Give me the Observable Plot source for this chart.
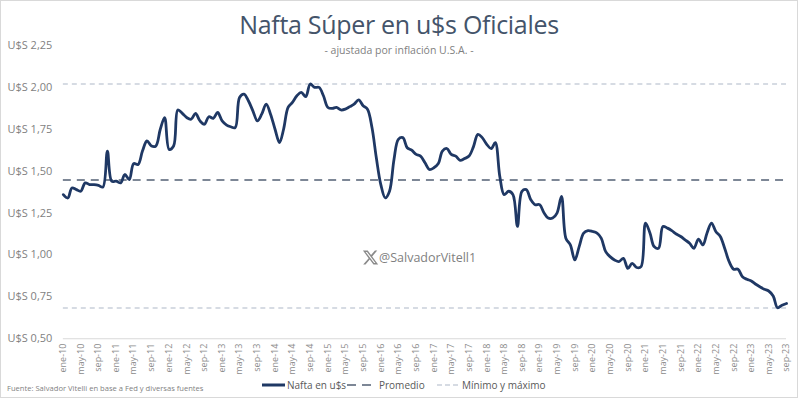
<!DOCTYPE html>
<html>
<head>
<meta charset="utf-8">
<script src="https://cdn.jsdelivr.net/npm/d3@7"></script>
<script src="https://cdn.jsdelivr.net/npm/@observablehq/plot@0.6"></script>
<style>
  html, body { margin: 0; padding: 0; background: #fff; }
  #wrap { position: relative; width: 798px; height: 398px; box-sizing: border-box; border: 1px solid #d9d9d9; overflow: hidden; font-family: "Open Sans", sans-serif; }
  #title { position: absolute; top: 6px; left: 0; width: 796px; text-align: center; font-size: 25px; color: #44546a; letter-spacing: -0.3px; }
  #subtitle { position: absolute; top: 42px; left: 0; width: 796px; text-align: center; font-size: 10.5px; color: #7f7f7f; }
  #chart { position: absolute; top: 35px; left: 0; }
  #wm { position: absolute; left: 361px; top: 248px; font-size: 12.5px; color: #7f7f7f; display: flex; align-items: center; }
  #source { position: absolute; left: 6px; top: 382px; font-size: 7.6px; color: #7f7f7f; }
  .leg { position: absolute; top: 377px; font-size: 10px; color: #595959; display: flex; align-items: center; white-space: nowrap; }
  .leg svg { margin-right: 2px; }
</style>
</head>
<body>
<div id="wrap">
  <div id="title">Nafta Súper en u$s Oficiales</div>
  <div id="subtitle">- ajustada por inflación U.S.A. -</div>
  <div id="chart"></div>
  <div id="wm"><svg width="17" height="17" viewBox="0 0 24 24"><path fill="#8a8a8a" d="M18.244 2.25h3.308l-7.227 8.26 8.502 11.24H16.17l-5.214-6.817L4.99 21.75H1.68l7.73-8.835L1.254 2.25H8.08l4.713 6.231zm-1.161 17.52h1.833L7.084 4.126H5.117z"/></svg><span>@SalvadorVitell1</span></div>
  <div id="source">Fuente: Salvador Vitelli en base a Fed y diversas fuentes</div>
  <div class="leg" style="left:261px"><svg width="23" height="6"><line x1="0" y1="3" x2="23" y2="3" stroke="#1f3864" stroke-width="3"/></svg>Nafta en u$s</div>
  <div class="leg" style="left:346px"><svg width="30" height="6"><line x1="0" y1="3" x2="30" y2="3" stroke="#7d8796" stroke-width="2" stroke-dasharray="9,6"/></svg>Promedio</div>
  <div class="leg" style="left:436px"><svg width="23" height="6"><line x1="0" y1="3" x2="23" y2="3" stroke="#c9d0da" stroke-width="1.5" stroke-dasharray="5,3"/></svg>Mínimo y máximo</div>
</div>
<script>
// Monthly values from ene-10 to sep-23 (U$S per litre, adjusted)
const startYear = 2010;
const values = [
  1.36, 1.34, 1.40, 1.39, 1.38, 1.43, 1.42, 1.42, 1.415, 1.405, 1.62, 1.44,
  1.44, 1.43, 1.48, 1.45, 1.545, 1.54, 1.62, 1.68, 1.65, 1.65, 1.75, 1.82,
  1.63, 1.65, 1.865, 1.845, 1.82, 1.81, 1.845, 1.80, 1.78, 1.825, 1.815, 1.85,
  1.80, 1.775, 1.765, 1.76, 1.94, 1.96, 1.92, 1.86, 1.80, 1.84, 1.90, 1.84,
  1.75, 1.67, 1.75, 1.88, 1.91, 1.95, 1.97, 1.945, 2.02, 2.00, 2.00, 1.95,
  1.88, 1.875, 1.88, 1.865, 1.87, 1.885, 1.90, 1.925, 1.89, 1.87, 1.76, 1.58,
  1.42, 1.34, 1.38, 1.57, 1.69, 1.70, 1.64, 1.625, 1.60, 1.59, 1.55, 1.51,
  1.52, 1.545, 1.62, 1.635, 1.60, 1.59, 1.565, 1.575, 1.59, 1.645, 1.72, 1.70,
  1.66, 1.635, 1.67, 1.47, 1.36, 1.38, 1.36, 1.17, 1.38, 1.39, 1.33, 1.30,
  1.30, 1.25, 1.22, 1.22, 1.25, 1.35, 1.10, 1.06, 0.97, 1.05, 1.13, 1.145,
  1.14, 1.13, 1.10, 1.02, 0.99, 0.97, 0.96, 0.98, 0.92, 0.95, 0.925, 0.93,
  1.19, 1.13, 1.05, 1.04, 1.17, 1.16, 1.145, 1.125, 1.11, 1.09, 1.07, 1.04,
  1.095, 1.06, 1.13, 1.19, 1.14, 1.11, 1.04, 0.96, 0.915, 0.915, 0.87, 0.855,
  0.845, 0.825, 0.81, 0.795, 0.785, 0.755, 0.685, 0.70, 0.71
];
const promedio = [1.447];
const minimoMaximo = [0.683, 2.02];
const yTicks = [0.5, 0.75, 1.0, 1.25, 1.5, 1.75, 2.0, 2.25];
const monthNames = ["ene","feb","mar","abr","may","jun","jul","ago","sep","oct","nov","dic"];

const data = values.map((v, i) => ({date: new Date(Date.UTC(startYear, i, 1)), value: v}));
const first = data[0].date, last = data[data.length - 1].date;
const xTicks = data.filter((d, i) => i % 4 === 0).map(d => d.date);

const fmtX = d => monthNames[d.getUTCMonth()] + "-" + String(d.getUTCFullYear()).slice(2);
const fmtY = v => "U$S " + v.toFixed(2).replace(".", ",");

const chart = Plot.plot({
  width: 798,
  height: 348,
  marginLeft: 62,
  marginRight: 11,
  marginTop: 9,
  marginBottom: 45,
  style: {fontFamily: "Open Sans, sans-serif", background: "transparent"},
  x: {type: "utc", domain: [first, last]},
  y: {domain: [0.5, 2.25]},
  marks: [
    Plot.ruleY([0.5], {stroke: "#d9d9d9", strokeWidth: 1}),
    Plot.ruleY(minimoMaximo, {stroke: "#c9d0da", strokeWidth: 1.5, strokeDasharray: "5,4"}),
    Plot.ruleY(promedio, {stroke: "#7d8796", strokeWidth: 2, strokeDasharray: "8,6"}),
    Plot.lineY(data, {x: "date", y: "value", stroke: "#1f3864", strokeWidth: 2.8, curve: "catmull-rom"}),
    Plot.axisX({ticks: xTicks, tickFormat: fmtX, tickRotate: -90, tickSize: 0, tickPadding: 5, fontSize: 9, fill: "#8c8c8c", label: null}),
    Plot.axisY({ticks: yTicks, tickFormat: fmtY, tickSize: 0, tickPadding: 0, textAnchor: "start", dx: -56, fontSize: 11, fill: "#7f7f7f", label: null})
  ]
});
document.getElementById("chart").appendChild(chart);
</script>
</body>
</html>
